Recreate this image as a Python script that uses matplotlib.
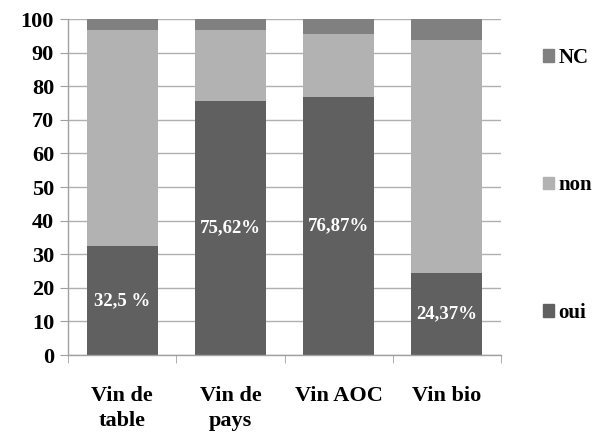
import matplotlib.pyplot as plt
import numpy as np
from matplotlib.patches import Patch

categories = ["Vin de\ntable", "Vin de\npays", "Vin AOC", "Vin bio"]
oui = [32.5, 75.62, 76.87, 24.37]
non = [64.3, 21.2, 18.7, 69.3]
nc = [3.2, 3.18, 4.43, 6.33]
labels = ["32,5 %", "75,62%", "76,87%", "24,37%"]
yticks = np.arange(0, 101, 10)

plt.rcParams["font.family"] = ["Liberation Serif", "DejaVu Serif"]
plt.rcParams["font.weight"] = "bold"

c_oui = "#606060"
c_non = "#b2b2b2"
c_nc = "#808080"

fig = plt.figure(figsize=(6.04, 4.34), dpi=100)
ax = fig.add_axes([0.1126, 0.182, 0.717, 0.774])

x = np.arange(len(categories))
w = 0.655
ax.bar(x, oui, w, color=c_oui, zorder=2)
ax.bar(x, non, w, bottom=oui, color=c_non, zorder=2)
ax.bar(x, nc, w, bottom=np.add(oui, non), color=c_nc, zorder=2)

# etiquettes au milieu de la part "oui"
for xi, v, t in zip(x, oui, labels):
    ax.text(xi, v / 2, t, color="white", ha="center", va="center",
            fontsize=13.5, fontweight="bold", zorder=3)

ax.set_xlim(-0.5, len(categories) - 0.5)
ax.set_ylim(0, 100)
ax.set_yticks(yticks)
ax.set_yticklabels([str(v) for v in yticks], fontsize=16, fontweight="bold")
ax.yaxis.grid(True, color="#b0b0b0", linewidth=1, zorder=0)
ax.set_axisbelow(True)

ax.set_xticks(x)
ax.set_xticklabels(categories, fontsize=16, fontweight="bold", linespacing=1.35)
ax.set_xticks(np.arange(-0.5, len(categories)), minor=True)
ax.tick_params(axis="x", which="major", length=0, pad=22)
ax.tick_params(axis="x", which="minor", length=6, color="#a0a0a0", direction="out")
ax.tick_params(axis="y", length=6, color="#a0a0a0", pad=4)

for s in ["top", "right"]:
    ax.spines[s].set_visible(False)
for s in ["left", "bottom"]:
    ax.spines[s].set_color("#a0a0a0")
    ax.spines[s].set_linewidth(1)

handles = [Patch(color=c_nc, label="NC"), Patch(color=c_non, label="non"),
           Patch(color=c_oui, label="oui")]
fig.legend(handles=handles, loc="upper left", bbox_to_anchor=(0.881, 0.914),
           frameon=False, handlelength=0.55, handleheight=0.55,
           handletextpad=0.2, labelspacing=5.16, borderpad=0,
           prop={"weight": "bold", "size": 15})

fig.savefig("out.png", dpi=100)
